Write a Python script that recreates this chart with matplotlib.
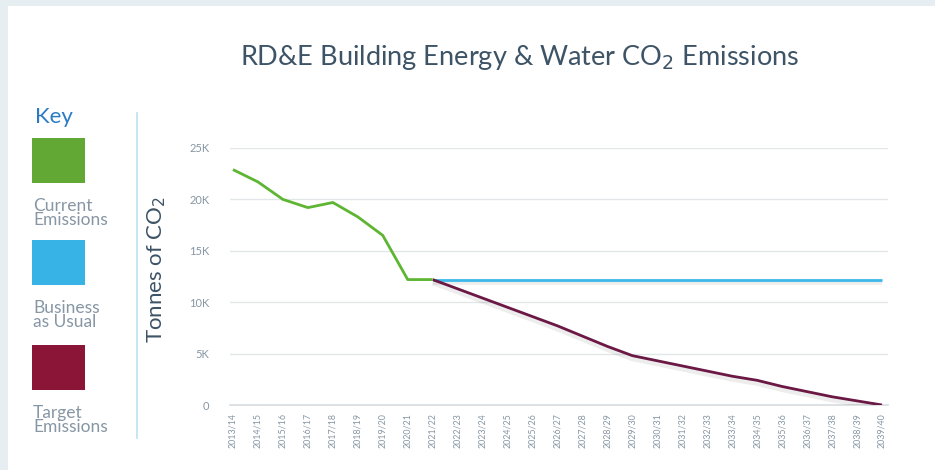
import matplotlib
matplotlib.use("Agg")
import matplotlib.pyplot as plt
import matplotlib.patheffects as pe
from matplotlib.ticker import FuncFormatter

years = ["2013/14", "2014/15", "2015/16", "2016/17", "2017/18", "2018/19", "2019/20",
         "2020/21", "2021/22", "2022/23", "2023/24", "2024/25", "2025/26", "2026/27",
         "2027/28", "2028/29", "2029/30", "2030/31", "2031/32", "2032/33", "2033/34",
         "2034/35", "2035/36", "2036/37", "2037/38", "2038/39", "2039/40"]
current = [22900, 21700, 20000, 19200, 19700, 18300, 16500, 12200, 12200]
bau = [12200] * 19
target = [12200, 11300, 10400, 9500, 8600, 7700, 6700, 5700, 4800, 4300, 3800,
          3300, 2800, 2400, 1800, 1300, 800, 400, 0]

yticks = [0, 5000, 10000, 15000, 20000, 25000]

W, H = 935, 470
fig = plt.figure(figsize=(W / 100, H / 100), dpi=100)
fig.patch.set_facecolor("#e6eef2")
# white card
fig.patches.append(plt.Rectangle((8 / W, 0), 1, 1 - 6 / H, transform=fig.transFigure,
                                 facecolor="white", edgecolor="none", zorder=-5))

FONT = ["Lato", "DejaVu Sans"]
TXT = "#3d5366"
GRAY = "#8696a4"

ax = fig.add_axes([230 / W, (H - 405) / H, 658 / W, 257 / H])
ax.set_facecolor("none")
ax.set_zorder(2)

x_cur = list(range(len(current)))
x_proj = list(range(len(current) - 1, len(current) - 1 + len(bau)))

shadow = [pe.SimpleLineShadow(offset=(0, -2), shadow_color="#000000", alpha=0.07, linewidth=4), pe.Normal()]
ax.plot(x_proj, bau, color="#3cb8ea", lw=2.0, zorder=3, path_effects=shadow, solid_capstyle="butt")
ax.plot(x_proj, target, color="#6b1845", lw=2.0, zorder=4, path_effects=shadow, solid_capstyle="butt")
ax.plot(x_cur, current, color="#5db532", lw=2.0, zorder=5, solid_capstyle="butt")

ax.set_xlim(-0.12, 26.24)
ax.set_ylim(0, 25000)
ax.set_yticks(yticks)
ax.yaxis.set_major_formatter(FuncFormatter(lambda v, p: "0" if v == 0 else f"{int(v/1000)}K"))
ax.set_xticks(range(len(years)))
ax.set_xticklabels(years, rotation=90, fontsize=6.4, color=GRAY, family=FONT)
for lab in ax.get_yticklabels():
    lab.set_fontsize(8)
    lab.set_color(GRAY)
    lab.set_family(FONT)
ax.tick_params(axis="both", length=0)
ax.tick_params(axis="y", pad=15)
ax.tick_params(axis="x", pad=6)
ax.grid(axis="y", color="#e3e6e9", lw=1.0)
ax.set_axisbelow(True)
for s in ["top", "right", "left"]:
    ax.spines[s].set_visible(False)
ax.spines["bottom"].set_color("#d8dcdf")
ax.spines["bottom"].set_linewidth(1.2)

ax.set_ylabel("Tonnes of CO$_2$", fontsize=16, color=TXT, family=FONT, labelpad=10)
ax.yaxis.set_label_coords((168 - 230) / 658, (405 - 270) / 257)

fig.text(520 / W, 1 - 58 / H, "RD&E Building Energy & Water CO$_2$ Emissions",
         ha="center", va="center", fontsize=19.5, color=TXT, family=FONT)

# divider
fig.add_artist(plt.Line2D([137 / W, 137 / W], [1 - 113 / H, 1 - 438 / H],
                          transform=fig.transFigure, color="#bfe0f2", lw=1.2))

# key
fig.text(35 / W, 1 - 117 / H, "Key", ha="left", va="center", fontsize=16,
         color="#2b7bc4", family=FONT)
key_items = [("#62a834", "Current\nEmissions", 138), ("#37b4e5", "Business\nas Usual", 240),
             ("#8b1536", "Target\nEmissions", 345)]
for col, lab, top in key_items:
    fig.patches.append(plt.Rectangle((32 / W, 1 - (top + 45) / H), 53 / W, 45 / H,
                                     transform=fig.transFigure, facecolor=col,
                                     edgecolor="none", zorder=2))
    fig.text(33 / W, 1 - (top + 75) / H, lab, ha="left", va="center", fontsize=12.5,
             color=GRAY, family=FONT, linespacing=0.85)

fig.savefig("out.png", dpi=100, facecolor=fig.get_facecolor())
